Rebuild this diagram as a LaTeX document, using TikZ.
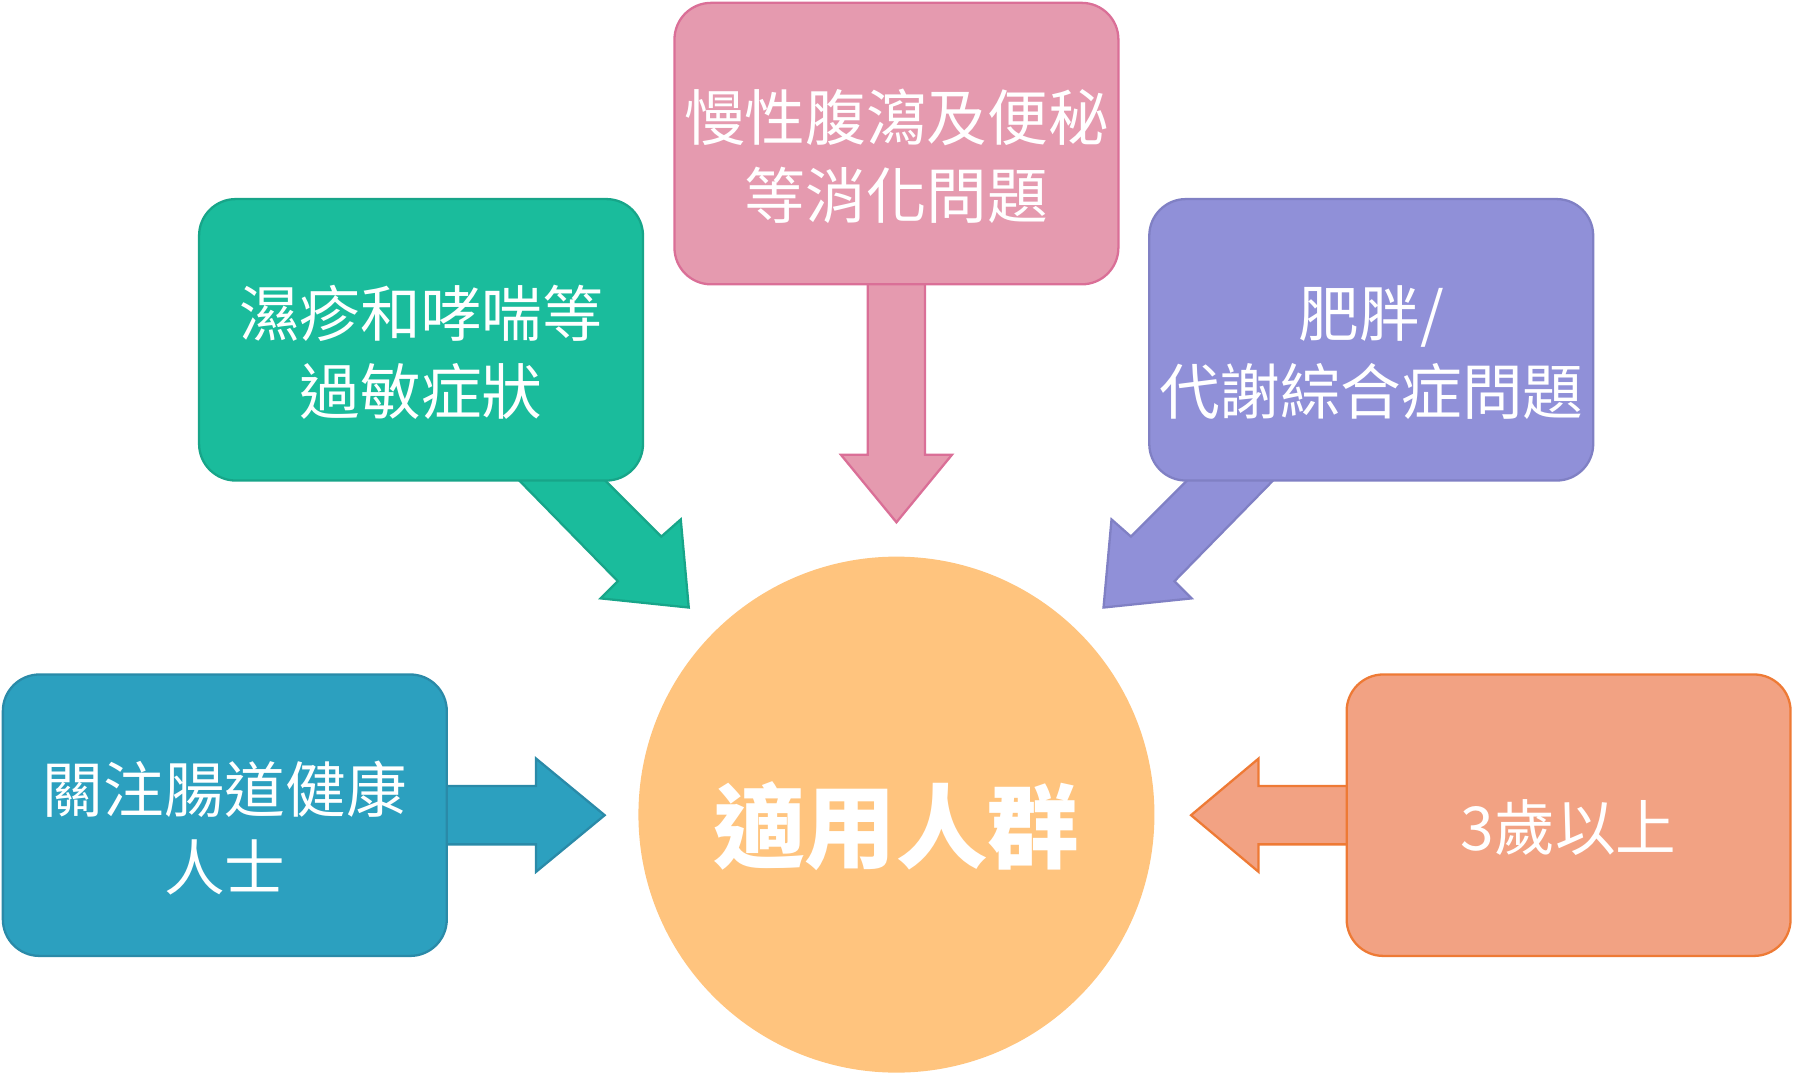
\documentclass[tikz,border=0pt]{standalone}
\usepackage{fontspec}
\setmainfont{Noto Sans CJK TC}
\usetikzlibrary{backgrounds}
\definecolor{pinkF}{HTML}{E59AAF}
\definecolor{pinkD}{HTML}{DA6F97}
\definecolor{greenF}{HTML}{1ABC9C}
\definecolor{greenD}{HTML}{17A589}
\definecolor{purpF}{HTML}{9090D8}
\definecolor{purpD}{HTML}{8080C4}
\definecolor{tealF}{HTML}{2CA0BF}
\definecolor{tealD}{HTML}{2A8AA8}
\definecolor{orngF}{HTML}{F2A283}
\definecolor{orngD}{HTML}{EE7A35}
\definecolor{circF}{HTML}{FFC47E}
\tikzset{
  box/.style={rounded corners=16pt, line width=1pt, minimum width=194pt,
    minimum height=123pt, inner sep=0pt},
  txt/.style={text=white, align=center, yshift=-5.5pt,
    font=\fontsize{26.5pt}{34pt}\selectfont},
  blockarrow/.style={line width=1pt, line join=miter}
}
\begin{document}
\begin{tikzpicture}[x=0.5pt,y=-0.5pt]
\useasboundingbox (0,0) rectangle (1568,941);
% boxes
\node[box, draw=pinkD, fill=pinkF] (pink) at (783.5,125.5) {};
\node[box, draw=greenD, fill=greenF] (green) at (368,297) {};
\node[box, draw=purpD, fill=purpF] (purp) at (1198.5,297) {};
\node[box, draw=tealD, fill=tealF] (teal) at (196.5,712.5) {};
\node[box, draw=orngD, fill=orngF] (orng) at (1371,712.5) {};
\node[circle, fill=circF, minimum size=225.5pt, inner sep=0pt] (c) at (783.5,712) {};
% texts
\node[txt] (tpink) at (pink) {慢性腹瀉及便秘\\等消化問題};
\node[txt] (tgreen) at (green) {濕疹和哮喘等\\過敏症狀};
\node[txt] (tpurp) at (purp) {肥胖/\\代謝綜合症問題};
\node[txt] (tteal) at (teal) {關注腸道健康\\人士};
\node[txt] (torng) at (orng) {3歲以上};
\node[text=white, yshift=-5pt, font=\bfseries\fontsize{40pt}{40pt}\selectfont] (title) at (c) {適用人群};
% arrows
\begin{pgfonlayer}{background}
\begin{scope}[shift={(pink.south)}]
\draw[blockarrow, draw=pinkD, fill=pinkF] (-25,-8) -- (-25,148) -- (-48.5,148) -- (0,207) -- (48.5,148) -- (25,148) -- (25,-8) -- cycle;
\end{scope}
\begin{scope}[shift={(green.south)}]
\draw[blockarrow, draw=greenD, fill=greenF] (80,-7) -- (155,-7) -- (210,48) -- (227,33) -- (234,110) -- (157,102) -- (172,87) -- cycle;
\end{scope}
\begin{scope}[shift={(purp.south)}]
\draw[blockarrow, draw=purpD, fill=purpF] (-80,-7) -- (-155,-7) -- (-210,48) -- (-227,33) -- (-234,110) -- (-157,102) -- (-172,87) -- cycle;
\end{scope}
\begin{scope}[shift={(teal.east)}]
\draw[blockarrow, draw=tealD, fill=tealF] (-8,-25.5) -- (77,-25.5) -- (77,-49.5) -- (137,0) -- (77,49.5) -- (77,25.5) -- (-8,25.5) -- cycle;
\end{scope}
\begin{scope}[shift={(orng.west)}]
\draw[blockarrow, draw=orngD, fill=orngF] (8,-25.5) -- (-76,-25.5) -- (-76,-49.5) -- (-135,0) -- (-76,49.5) -- (-76,25.5) -- (8,25.5) -- cycle;
\end{scope}
\end{pgfonlayer}
\end{tikzpicture}
\end{document}
